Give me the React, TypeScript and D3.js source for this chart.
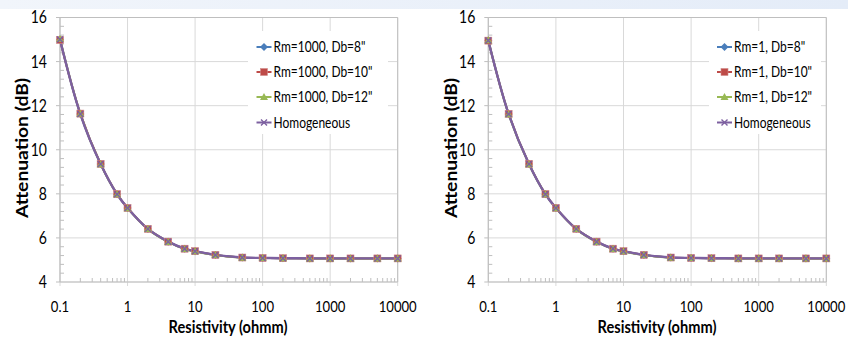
import React from "react";
import * as d3 from "d3";

const resistivity = [0.1, 0.2, 0.4, 0.7, 1, 2, 4, 7, 10, 20, 50, 100, 200, 500, 1000, 2000, 5000, 10000];

const leftDb8 = [15.0, 11.62, 9.35, 7.98, 7.36, 6.41, 5.83, 5.51, 5.4, 5.23, 5.11, 5.09, 5.08, 5.07, 5.07, 5.07, 5.07, 5.07];
const leftDb10 = [14.98, 11.64, 9.36, 7.99, 7.36, 6.41, 5.83, 5.51, 5.4, 5.23, 5.11, 5.09, 5.08, 5.07, 5.07, 5.07, 5.07, 5.07];
const leftDb12 = [15.02, 11.63, 9.34, 7.98, 7.35, 6.4, 5.82, 5.5, 5.39, 5.22, 5.1, 5.09, 5.08, 5.07, 5.07, 5.07, 5.07, 5.07];
const leftHomog = [15.0, 11.62, 9.35, 7.98, 7.36, 6.41, 5.83, 5.51, 5.4, 5.23, 5.11, 5.09, 5.08, 5.07, 5.07, 5.07, 5.07, 5.07];

const rightDb8 = [14.96, 11.62, 9.35, 7.98, 7.36, 6.41, 5.83, 5.51, 5.4, 5.23, 5.11, 5.09, 5.08, 5.07, 5.07, 5.07, 5.07, 5.07];
const rightDb10 = [14.95, 11.63, 9.36, 7.99, 7.36, 6.41, 5.83, 5.51, 5.4, 5.23, 5.11, 5.09, 5.08, 5.07, 5.07, 5.07, 5.07, 5.07];
const rightDb12 = [14.97, 11.61, 9.34, 7.98, 7.35, 6.4, 5.82, 5.5, 5.39, 5.22, 5.1, 5.09, 5.08, 5.07, 5.07, 5.07, 5.07, 5.07];
const rightHomog = [14.96, 11.62, 9.35, 7.98, 7.36, 6.41, 5.83, 5.51, 5.4, 5.23, 5.11, 5.09, 5.08, 5.07, 5.07, 5.07, 5.07, 5.07];

const leftNames = ['Rm=1000, Db=8"', 'Rm=1000, Db=10"', 'Rm=1000, Db=12"', "Homogeneous"];
const rightNames = ['Rm=1, Db=8"', 'Rm=1, Db=10"', 'Rm=1, Db=12"', "Homogeneous"];

const xTickValues = [0.1, 1, 10, 100, 1000, 10000];
const xTickLabels = ["0.1", "1", "10", "100", "1000", "10000"];
const yTickValues = [4, 6, 8, 10, 12, 14, 16];

const xTitle = "Resistivity (ohmm)";
const yTitle = "Attenuation (dB)";

const COLORS = ["#4a7ebb", "#be4b48", "#98b954", "#7d60a0"];
const SHAPES = ["diamond", "square", "triangle", "x"];
const FONT = "Lato, 'Open Sans', 'Liberation Sans', sans-serif";

function SText({
  x,
  y,
  sx,
  size,
  anchor,
  bold,
  children,
  rotate,
}: {
  x: number;
  y: number;
  sx: number;
  size: number;
  anchor?: string;
  bold?: boolean;
  children: React.ReactNode;
  rotate?: boolean;
}) {
  const t = rotate
    ? `translate(${x},${y}) rotate(-90) scale(${sx},1)`
    : `translate(${x},${y}) scale(${sx},1)`;
  return (
    <text
      transform={t}
      textAnchor={anchor || "start"}
      dy="0.36em"
      fontFamily={FONT}
      fontSize={size}
      fontWeight={bold ? "bold" : "normal"}
      fill="#000"
    >
      {children}
    </text>
  );
}

function Marker({ shape, x, y, color }: { shape: string; x: number; y: number; color: string }) {
  if (shape === "diamond") {
    return <path d={`M${x},${y - 4}L${x + 4},${y}L${x},${y + 4}L${x - 4},${y}Z`} fill={color} />;
  }
  if (shape === "square") {
    return <rect x={x - 3.5} y={y - 3.5} width={7} height={7} fill={color} stroke="#d08c8a" strokeWidth={0.6} />;
  }
  if (shape === "triangle") {
    return <path d={`M${x},${y - 4}L${x + 4},${y + 3}L${x - 4},${y + 3}Z`} fill={color} />;
  }
  return (
    <path
      d={`M${x - 3},${y - 3}L${x + 3},${y + 3}M${x - 3},${y + 3}L${x + 3},${y - 3}`}
      stroke={color}
      strokeWidth={1.4}
      fill="none"
    />
  );
}

function Panel({
  x0,
  x1,
  series,
  names,
  legend,
  yLabelX,
  xLabelX,
}: {
  x0: number;
  x1: number;
  series: number[][];
  names: string[];
  legend: { bx: number; bw: number; lx: number };
  yLabelX: number;
  xLabelX: number;
}) {
  const yTop = 17.5;
  const yBot = 282;
  const x = d3.scaleLog().domain([0.1, 10000]).range([x0, x1]);
  const y = d3.scaleLinear().domain([4, 16]).range([yBot, yTop]);
  const line = d3
    .line<number>()
    .x((_, i) => x(resistivity[i]))
    .y((v) => y(v))
    .curve(d3.curveCatmullRom.alpha(0.5));

  const minorX: number[] = [];
  for (let e = -1; e < 4; e++) {
    for (let m = 2; m <= 9; m++) minorX.push(m * Math.pow(10, e));
  }
  const minorY: number[] = [];
  for (let v = 4; v < 16; v += 0.4) {
    const r = Math.round(v * 10) / 10;
    if (Math.abs(r / 2 - Math.round(r / 2)) > 0.01) minorY.push(r);
  }
  const grid = "#d9d9d9";
  const axis = "#bfbfbf";
  const rowY = [47, 72, 97, 122.5];

  return (
    <g>
      {yTickValues.map((v) => (
        <line key={"gy" + v} x1={x0} x2={x1} y1={y(v)} y2={y(v)} stroke={grid} strokeWidth={1} />
      ))}
      {xTickValues.map((v) => (
        <line key={"gx" + v} x1={x(v)} x2={x(v)} y1={yTop} y2={yBot + 4} stroke={grid} strokeWidth={1} />
      ))}
      <line x1={x1} x2={x1} y1={yTop} y2={yBot} stroke={axis} />
      <line x1={x0} x2={x1} y1={yTop} y2={yTop} stroke={axis} />
      <line x1={x0} x2={x1} y1={yBot} y2={yBot} stroke={axis} strokeWidth={1.2} />
      <line x1={x0} x2={x0} y1={yTop} y2={yBot} stroke={axis} strokeWidth={1.2} />
      {minorX.map((v) => (
        <line key={"mx" + v} x1={x(v)} x2={x(v)} y1={yBot} y2={yBot - 4} stroke={axis} />
      ))}
      {minorY.map((v) => (
        <line key={"my" + v} x1={x0} x2={x0 + 4} y1={y(v)} y2={y(v)} stroke={axis} />
      ))}
      {yTickValues.map((v) => (
        <line key={"ty" + v} x1={x0 - 4} x2={x0} y1={y(v)} y2={y(v)} stroke={axis} />
      ))}
      <rect x={legend.bx} y={31} width={legend.bw} height={103} fill="#ffffff" />
      {series.map((s, k) => (
        <path key={"l" + k} d={line(s) || ""} fill="none" stroke={COLORS[k]} strokeWidth={k === 3 ? 2.4 : 2} />
      ))}
      {series.map((s, k) => (
        <g key={"m" + k}>
          {s.map((v, i) => (
            <Marker key={i} shape={SHAPES[k]} x={x(resistivity[i])} y={y(v)} color={COLORS[k]} />
          ))}
        </g>
      ))}
      {yTickValues.map((v) => (
        <SText key={"yl" + v} x={x0 - 13} y={y(v)} sx={0.85} size={16.5} anchor="end">
          {v}
        </SText>
      ))}
      {xTickValues.map((v, i) => (
        <SText key={"xl" + v} x={x(v)} y={306.5} sx={0.82} size={16} anchor="middle">
          {xTickLabels[i]}
        </SText>
      ))}
      {names.map((n, k) => (
        <g key={"lg" + k}>
          <line x1={legend.lx} x2={legend.lx + 15} y1={rowY[k]} y2={rowY[k]} stroke={COLORS[k]} strokeWidth={2} />
          <Marker shape={SHAPES[k]} x={legend.lx + 7.5} y={rowY[k]} color={COLORS[k]} />
          <SText x={legend.lx + 17} y={rowY[k]} sx={0.8} size={15}>
            {n}
          </SText>
        </g>
      ))}
      <SText x={xLabelX} y={327} sx={0.86} size={17} anchor="middle" bold>
        {xTitle}
      </SText>
      <SText x={yLabelX} y={148} sx={1.1} size={17.5} anchor="middle" bold rotate>
        {yTitle}
      </SText>
    </g>
  );
}

export default function App() {
  return (
    <svg
      width={848}
      height={340}
      style={{ position: "absolute", left: 0, top: 0, background: "#ffffff" }}
    >
      <defs>
        <linearGradient id="band" x1="0" x2="1" y1="0" y2="0">
          <stop offset="0" stopColor="#f1f5fb" />
          <stop offset="1" stopColor="#e4ecf8" />
        </linearGradient>
      </defs>
      <rect x={0} y={0} width={848} height={340} fill="#ffffff" />
      <rect x={0} y={0} width={848} height={9} fill="url(#band)" />
      <Panel
        x0={60}
        x1={397.7}
        series={[leftDb8, leftDb10, leftDb12, leftHomog]}
        names={leftNames}
        legend={{ bx: 248, bw: 140, lx: 256.5 }}
        yLabelX={22}
        xLabelX={228}
      />
      <Panel
        x0={488.3}
        x1={826.3}
        series={[rightDb8, rightDb10, rightDb12, rightHomog]}
        names={rightNames}
        legend={{ bx: 709, bw: 112, lx: 717 }}
        yLabelX={451}
        xLabelX={657}
      />
    </svg>
  );
}
